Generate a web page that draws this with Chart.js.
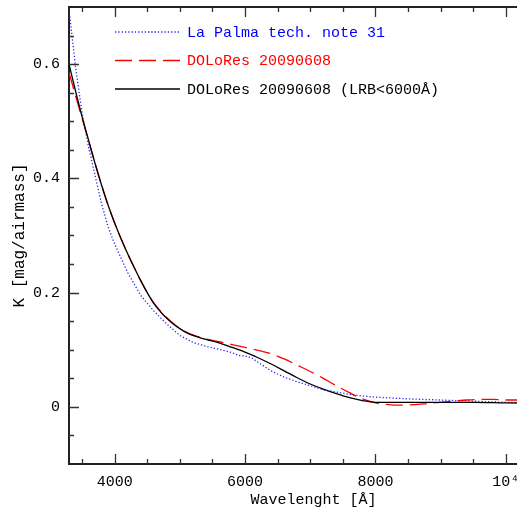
<!DOCTYPE html>
<html><head><meta charset="utf-8">
<script src="https://cdn.jsdelivr.net/npm/chart.js@4/dist/chart.umd.min.js"></script>
<style>
html,body{margin:0;padding:0;overflow:hidden;background:#fff;width:517px;height:511px}
#wrap{width:600px;height:511px}
</style></head>
<body><div id="wrap"><canvas id="c" width="600" height="511"></canvas></div>
<script>
// ---- data ----
const laPalmaWl = [3300,3400,3500,3600,3700,3800,3900,4000,4200,4400,4600,4800,5000,5200,5400,5600,5800,5900,6000,6100,6200,6400,6600,6800,7000,7200,7400,7600,7800,8000,8500,9000,9500,10000,10800];
const laPalmaK  = [0.695,0.595,0.515,0.455,0.405,0.355,0.315,0.285,0.235,0.195,0.168,0.145,0.125,0.113,0.106,0.101,0.095,0.090,0.089,0.086,0.078,0.063,0.052,0.044,0.037,0.030,0.026,0.022,0.019,0.017,0.014,0.012,0.010,0.008,0.007];

const doloresWl = [3300,3400,3500,3600,3700,3800,3900,4000,4100,4200,4300,4400,4500,4600,4700,4800,4900,5000,5100,5200,5400,5600,5800,6000,6200,6400,6600,6800,7000,7200,7400,7600,7800,8000,8200,8400,8600,8800,9000,9200,9400,9600,9800,10000,10200,10500,10800];
const doloresK  = [0.585,0.545,0.505,0.466,0.426,0.388,0.353,0.322,0.294,0.268,0.244,0.221,0.200,0.182,0.168,0.156,0.146,0.137,0.131,0.126,0.119,0.114,0.109,0.104,0.099,0.093,0.084,0.073,0.062,0.050,0.037,0.025,0.014,0.007,0.004,0.003,0.004,0.006,0.008,0.010,0.012,0.013,0.013,0.012,0.012,0.013,0.013];

const lrbWl = [3300,3400,3500,3600,3700,3800,3900,4000,4100,4200,4300,4400,4500,4600,4700,4800,4900,5000,5100,5200,5400,5600,5800,6000,6200,6400,6600,6800,7000,7200,7400,7600,7800,8000,8500,9000,9500,10000,10800];
const lrbK  = [0.600,0.553,0.508,0.467,0.426,0.388,0.353,0.322,0.294,0.268,0.244,0.221,0.200,0.181,0.167,0.155,0.145,0.137,0.130,0.125,0.118,0.112,0.104,0.096,0.086,0.075,0.063,0.051,0.040,0.031,0.023,0.016,0.011,0.008,0.008,0.008,0.008,0.007,0.006];

const seriesLabels = ['La Palma tech. note 31','DOLoRes 20090608','DOLoRes 20090608 (LRB<6000\u00C5)'];
const xMajorTicks = [4000,6000,8000,10000];
const xTickLabels = ['4000','6000','8000','10\u2074'];
const xMinorTicks = [3500,4500,5000,5500,6500,7000,7500,8500,9000,9500,10500];
const yMajorTicks = [0,0.2,0.4,0.6];
const yTickLabels = ['0','0.2','0.4','0.6'];
const yMinorTicks = [-0.05,0.05,0.1,0.15,0.25,0.3,0.35,0.45,0.5,0.55,0.65];

const pts = (xs, ys) => xs.map((v,i)=>({x:v,y:ys[i]}));
const FONT = '"Liberation Mono", monospace';
const FSIZE = 15;

const frameTicks = {
  id:'frameTicks',
  afterDatasetsDraw(chart){
    const {ctx, chartArea:a, scales:{x,y}} = chart;
    ctx.save();
    ctx.strokeStyle='#333'; ctx.lineWidth=1.3;
    const vt=(v,len)=>{const p=Math.round(x.getPixelForValue(v))+0.5;
      ctx.beginPath(); ctx.moveTo(p,a.bottom); ctx.lineTo(p,a.bottom-len);
      ctx.moveTo(p,a.top); ctx.lineTo(p,a.top+len); ctx.stroke();};
    const ht=(v,len)=>{const p=Math.round(y.getPixelForValue(v))+0.5;
      ctx.beginPath(); ctx.moveTo(a.left,p); ctx.lineTo(a.left+len,p);
      ctx.moveTo(a.right,p); ctx.lineTo(a.right-len,p); ctx.stroke();};
    xMajorTicks.forEach(v=>vt(v,10)); xMinorTicks.forEach(v=>vt(v,5));
    yMajorTicks.forEach(v=>ht(v,10)); yMinorTicks.forEach(v=>ht(v,5));
    ctx.strokeStyle='#222'; ctx.lineWidth=2;
    ctx.beginPath(); ctx.moveTo(a.left,a.top); ctx.lineTo(a.right,a.top); ctx.lineTo(a.right,a.bottom); ctx.stroke();
    // legend
    const ds = chart.data.datasets;
    ds.forEach((d,i)=>{
      const yy = a.top + 25 + i*28.5;
      ctx.save();
      ctx.strokeStyle=d.borderColor; ctx.lineWidth=d.borderWidth; ctx.setLineDash(d.borderDash||[]);
      ctx.beginPath(); ctx.moveTo(a.left+46,yy); ctx.lineTo(a.left+111,yy); ctx.stroke();
      ctx.restore();
      ctx.fillStyle=d.textColor; ctx.font=FSIZE+'px '+FONT; ctx.textBaseline='middle'; ctx.textAlign='left';
      ctx.fillText(d.label, a.left+118, yy+1);
    });
    ctx.restore();
  }
};

new Chart(document.getElementById('c'), {
  type:'line',
  data:{datasets:[
    {label:seriesLabels[0], data:pts(laPalmaWl,laPalmaK), borderColor:'#2a2aff', textColor:'#0000ff', borderWidth:1.3, borderDash:[1.3,2], pointRadius:0, tension:0, order:2},
    {label:seriesLabels[1], data:pts(doloresWl,doloresK), borderColor:'#ff0000', textColor:'#ff0000', borderWidth:1.3, borderDash:[17,7], pointRadius:0, cubicInterpolationMode:'monotone', order:1},
    {label:seriesLabels[2], data:pts(lrbWl,lrbK), borderColor:'#000000', textColor:'#000000', borderWidth:1.3, pointRadius:0, cubicInterpolationMode:'monotone', order:0}
  ]},
  options:{
    responsive:false, animation:false, devicePixelRatio:1,
    layout:{padding:{top:7,right:42,left:0,bottom:0}},
    plugins:{legend:{display:false}, tooltip:{enabled:false}},
    scales:{
      x:{type:'linear', min:3300, max:10800,
        afterBuildTicks(s){ s.ticks = xMajorTicks.map(v=>({value:v})); },
        afterFit(s){ s.height = 47; s.paddingLeft=0; s.paddingRight=0; },
        grid:{display:false, drawTicks:false},
        border:{display:true,color:'#222',width:2},
        ticks:{color:'#000', font:{family:FONT,size:FSIZE}, padding:9, maxRotation:0, autoSkip:false,
          callback:(v)=>xTickLabels[xMajorTicks.indexOf(v)]},
        title:{display:true, text:'Wavelenght [\u00C5]', color:'#000', font:{family:FONT,size:FSIZE}, padding:{top:0,bottom:2}}
      },
      y:{type:'linear', min:-0.1, max:0.7,
        afterBuildTicks(s){ s.ticks = yMajorTicks.map(v=>({value:v})); },
        afterFit(s){ s.width = 69; s.paddingTop=0; s.paddingBottom=0; },
        grid:{display:false, drawTicks:false},
        border:{display:true,color:'#222',width:2},
        ticks:{color:'#000', font:{family:FONT,size:FSIZE}, padding:9,
          callback:(v)=>yTickLabels[yMajorTicks.indexOf(v)]},
        title:{display:true, text:'K [mag/airmass]', color:'#000', font:{family:FONT,size:16}, padding:{top:10,bottom:0}}
      }
    }
  },
  plugins:[frameTicks]
});
</script>
</body></html>
